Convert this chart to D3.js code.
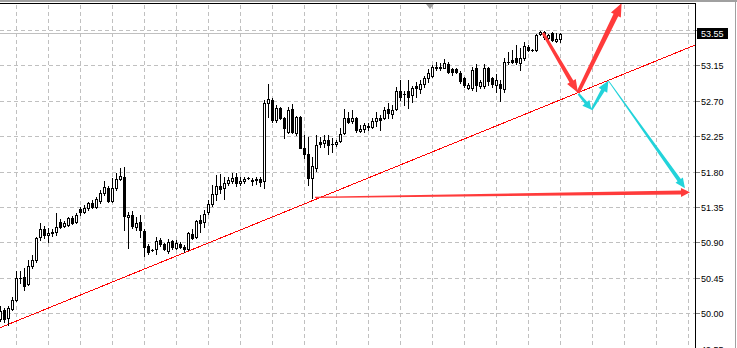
<!DOCTYPE html>
<html>
<head>
<meta charset="utf-8">
<script src="https://cdn.jsdelivr.net/npm/d3@7"></script>
<style>
  body { margin: 0; background: #fff; }
  svg { display: block; }
</style>
</head>
<body>
<svg id="chart" width="737" height="348"></svg>
<script>
const W = 737, H = 348, plotRight = 695;

// candles, one per bar (index 0 = leftmost)
const open = [
  49.928, 50.042, 49.940, 50.055, 50.169, 50.449, 50.461, 50.372, 50.601, 50.677,
  50.970, 51.071, 50.995, 51.020, 51.033, 51.160, 51.109, 51.122, 51.211, 51.160,
  51.325, 51.287, 51.338, 51.402, 51.351, 51.427, 51.529, 51.593, 51.427, 51.593,
  51.707, 51.732, 51.224, 51.249, 51.097, 51.160, 51.046, 50.855, 50.804, 50.817,
  50.932, 50.881, 50.792, 50.919, 50.830, 50.881, 50.843, 50.817, 51.008, 50.970,
  51.186, 51.160, 51.287, 51.389, 51.516, 51.618, 51.593, 51.656, 51.681, 51.732,
  51.656, 51.681, 51.720, 51.694, 51.694, 51.707, 51.681, 52.673, 52.711, 52.456,
  52.609, 52.482, 52.304, 52.596, 52.291, 52.494, 52.101, 52.025, 51.720, 51.847,
  52.177, 52.164, 52.202, 52.152, 52.152, 52.190, 52.291, 52.482, 52.443, 52.482,
  52.317, 52.342, 52.380, 52.368, 52.443, 52.482, 52.482, 52.596, 52.533, 52.596,
  52.825, 52.787, 52.825, 52.774, 52.889, 52.851, 52.914, 52.990, 53.016, 53.130,
  53.117, 53.117, 53.168, 53.105, 53.105, 53.054, 52.990, 52.863, 52.863, 53.117,
  52.889, 52.889, 53.117, 52.990, 52.901, 52.914, 52.851, 53.194, 53.219, 53.245,
  53.181, 53.245, 53.384, 53.346, 53.346, 53.550, 53.575, 53.499, 53.562, 53.461,
  53.486
];
const close = [
  50.029, 49.928, 50.067, 50.169, 50.449, 50.449, 50.347, 50.601, 50.677, 50.957,
  51.071, 50.995, 51.020, 51.033, 51.097, 51.097, 51.147, 51.211, 51.147, 51.249,
  51.287, 51.338, 51.402, 51.351, 51.453, 51.529, 51.605, 51.427, 51.593, 51.707,
  51.745, 51.237, 51.249, 51.109, 51.147, 51.058, 50.843, 50.779, 50.804, 50.919,
  50.881, 50.817, 50.906, 50.843, 50.894, 50.843, 50.817, 51.020, 50.957, 51.173,
  51.147, 51.262, 51.389, 51.516, 51.618, 51.580, 51.656, 51.694, 51.720, 51.656,
  51.681, 51.707, 51.720, 51.681, 51.707, 51.669, 52.673, 52.724, 52.456, 52.609,
  52.482, 52.355, 52.584, 52.304, 52.494, 52.101, 52.025, 51.720, 51.872, 52.139,
  52.152, 52.202, 52.139, 52.152, 52.177, 52.279, 52.482, 52.431, 52.482, 52.329,
  52.342, 52.393, 52.368, 52.443, 52.482, 52.456, 52.584, 52.545, 52.584, 52.825,
  52.749, 52.787, 52.749, 52.863, 52.863, 52.914, 52.990, 53.054, 53.130, 53.117,
  53.130, 53.181, 53.067, 53.067, 53.067, 52.952, 52.901, 52.901, 53.092, 52.901,
  52.940, 53.117, 52.952, 52.914, 52.965, 52.863, 53.194, 53.194, 53.194, 53.194,
  53.245, 53.397, 53.346, 53.346, 53.537, 53.575, 53.512, 53.537, 53.473, 53.486,
  53.550
];
const high = [
  50.093, 50.067, 50.093, 50.207, 50.538, 50.538, 50.576, 50.677, 50.741, 50.970,
  51.147, 51.109, 51.084, 51.071, 51.274, 51.198, 51.173, 51.224, 51.236, 51.274,
  51.351, 51.376, 51.415, 51.440, 51.478, 51.567, 51.681, 51.618, 51.720, 51.783,
  51.847, 51.859, 51.287, 51.300, 51.224, 51.249, 51.071, 50.881, 50.817, 50.970,
  50.957, 50.894, 50.944, 50.932, 50.932, 50.906, 50.868, 51.033, 51.071, 51.186,
  51.249, 51.313, 51.440, 51.631, 51.758, 51.770, 51.732, 51.732, 51.783, 51.783,
  51.732, 51.732, 51.732, 51.720, 51.732, 51.732, 52.711, 52.914, 52.737, 52.647,
  52.622, 52.495, 52.622, 52.660, 52.507, 52.507, 52.266, 52.241, 51.986, 52.266,
  52.240, 52.266, 52.266, 52.230, 52.202, 52.355, 52.596, 52.558, 52.584, 52.494,
  52.393, 52.418, 52.418, 52.482, 52.558, 52.520, 52.622, 52.673, 52.647, 52.876,
  52.965, 52.825, 52.965, 52.889, 52.940, 52.965, 53.016, 53.105, 53.156, 53.194,
  53.181, 53.232, 53.194, 53.117, 53.117, 53.079, 53.003, 52.927, 53.130, 53.168,
  52.965, 53.168, 53.130, 53.003, 53.041, 52.965, 53.245, 53.321, 53.346, 53.410,
  53.372, 53.448, 53.410, 53.359, 53.550, 53.588, 53.588, 53.550, 53.575, 53.562,
  53.562
];
const low = [
  49.902, 49.889, 49.851, 50.042, 50.156, 50.385, 50.296, 50.360, 50.580, 50.652,
  50.932, 50.957, 50.906, 50.982, 50.995, 51.084, 51.097, 51.109, 51.135, 51.147,
  51.249, 51.274, 51.313, 51.338, 51.338, 51.402, 51.504, 51.415, 51.415, 51.567,
  51.694, 51.058, 50.830, 51.084, 51.058, 50.970, 50.728, 50.754, 50.792, 50.754,
  50.855, 50.804, 50.766, 50.817, 50.817, 50.830, 50.779, 50.804, 50.944, 50.957,
  51.033, 51.097, 51.262, 51.364, 51.440, 51.529, 51.453, 51.631, 51.656, 51.618,
  51.631, 51.656, 51.707, 51.631, 51.643, 51.618, 51.593, 52.495, 52.431, 52.431,
  52.469, 52.228, 52.291, 52.291, 52.266, 52.101, 51.974, 51.631, 51.466, 51.809,
  52.114, 52.114, 52.025, 52.050, 52.126, 52.177, 52.279, 52.418, 52.418, 52.304,
  52.304, 52.304, 52.329, 52.355, 52.380, 52.329, 52.469, 52.482, 52.482, 52.584,
  52.711, 52.647, 52.609, 52.685, 52.749, 52.800, 52.876, 52.940, 53.003, 53.092,
  53.092, 53.117, 53.054, 53.029, 53.054, 52.927, 52.876, 52.851, 52.838, 52.825,
  52.863, 52.863, 52.901, 52.876, 52.813, 52.698, 52.813, 53.168, 53.181, 53.168,
  53.092, 53.219, 53.334, 53.334, 53.334, 53.537, 53.486, 53.486, 53.461, 53.448,
  53.448
];

const priceTicks = ["49.55", "50.00", "50.45", "50.90", "51.35", "51.80", "52.25", "52.70", "53.15", "53.60"];
const bid = 53.55;

// drawing objects, points as [bar, price]
const trendLine = [[0, 49.817], [173.75, 53.408]];
const redArrows = [
  [[135.75, 53.562], [144.5, 52.803]],
  [[144.5, 52.803], [155.4, 53.939]],
  [[78.75, 51.474], [172.5, 51.537]]
];
const cyanArrows = [
  [[144.6, 52.79], [147.9, 52.587]],
  [[147.9, 52.587], [152.1, 52.956]],
  [[152.1, 52.956], [171.25, 51.588]]
];

const svg = d3.select("#chart");
const x = d3.scaleLinear().domain([0, 173.75]).range([0, plotRight]);
const y = d3.scaleLinear().domain([50.00, 53.60]).range([313.3, 30.0]);
const px = v => Math.round(x(v)), py = v => Math.round(y(v));

svg.append("rect").attr("width", W).attr("height", H).attr("fill", "#fff");

// grid
const grid = svg.append("g").attr("stroke", "#c0c0c0").attr("stroke-dasharray", "4,3").attr("shape-rendering", "crispEdges");
grid.selectAll("line.h").data(priceTicks).join("line")
  .attr("x1", 0).attr("x2", plotRight)
  .attr("y1", d => py(+d) + 0.5).attr("y2", d => py(+d) + 0.5);
grid.selectAll("line.v").data(d3.range(4, 174, 8)).join("line")
  .attr("x1", d => px(d) + 0.5).attr("x2", d => px(d) + 0.5)
  .attr("y1", 5).attr("y2", H);

// bid line
svg.append("line").attr("x1", 0).attr("x2", plotRight)
  .attr("y1", py(bid) - 0.5).attr("y2", py(bid) - 0.5)
  .attr("stroke", "#c0c0c0").attr("shape-rendering", "crispEdges");

// trend line
svg.append("line")
  .attr("x1", x(trendLine[0][0])).attr("y1", y(trendLine[0][1]))
  .attr("x2", x(trendLine[1][0])).attr("y2", y(trendLine[1][1]))
  .attr("stroke", "#ff0000").attr("stroke-width", 1).attr("shape-rendering", "crispEdges");

// candles
const candles = svg.append("g").attr("shape-rendering", "crispEdges");
d3.range(open.length).forEach(i => {
  const cx = px(i);
  const top = py(Math.max(open[i], close[i])), bot = py(Math.min(open[i], close[i]));
  const g = candles.append("g");
  g.append("rect").attr("x", cx).attr("width", 1)
    .attr("y", py(high[i])).attr("height", py(low[i]) - py(high[i]) + 1).attr("fill", "#000");
  g.append("rect").attr("x", cx - 1).attr("width", 3)
    .attr("y", top).attr("height", bot - top + 1).attr("fill", "#000");
  if (close[i] > open[i] && bot - top > 1) {
    g.append("rect").attr("x", cx).attr("width", 1)
      .attr("y", top + 1).attr("height", bot - top - 1).attr("fill", "#fff");
  }
});

// tapered arrows
function arrowPath(p, w0, w1, L, Hh) {
  const x0 = x(p[0][0]), y0 = y(p[0][1]), x1 = x(p[1][0]), y1 = y(p[1][1]);
  const len = Math.hypot(x1 - x0, y1 - y0), ux = (x1 - x0) / len, uy = (y1 - y0) / len;
  const nx = -uy, ny = ux;
  const ex = x1 - ux * L, ey = y1 - uy * L;
  const pts = [
    [x0 + nx * w0, y0 + ny * w0], [ex + nx * w1, ey + ny * w1], [ex + nx * Hh, ey + ny * Hh],
    [x1, y1],
    [ex - nx * Hh, ey - ny * Hh], [ex - nx * w1, ey - ny * w1], [x0 - nx * w0, y0 - ny * w0]
  ];
  return "M" + pts.map(d => d.join(",")).join("L") + "Z";
}
const redStyle = [[1.4, 2.2, 13, 5], [1.8, 2.6, 13, 5.5], [0.6, 2, 9, 4.5]];
const cyanStyle = [[1, 1.6, 9, 4.5], [1, 2, 11, 5], [0.4, 2, 10, 4.5]];
svg.selectAll("path.red").data(redArrows).join("path")
  .attr("d", (d, i) => arrowPath(d, ...redStyle[i])).attr("fill", "#ff3b3b");
svg.selectAll("path.cyan").data(cyanArrows).join("path")
  .attr("d", (d, i) => arrowPath(d, ...cyanStyle[i])).attr("fill", "#22d3da");

// frame
svg.append("rect").attr("x", 0).attr("y", 0).attr("width", W).attr("height", 2).attr("fill", "#a0a0a0");
svg.append("rect").attr("x", 0).attr("y", 3).attr("width", plotRight + 1).attr("height", 1).attr("fill", "#000");
svg.append("rect").attr("x", plotRight).attr("y", 3).attr("width", 1).attr("height", H).attr("fill", "#000");
svg.append("rect").attr("x", 735).attr("y", 0).attr("width", 1).attr("height", H).attr("fill", "#a0a0a0");
svg.append("path").attr("d", "M426,4L434,4L430,9Z").attr("fill", "#a0a0a0");

// price axis
const axis = svg.append("g").attr("font-family", "Liberation Sans, Arial, sans-serif").attr("font-size", 9);
priceTicks.forEach(t => {
  const ty = py(+t);
  axis.append("rect").attr("x", 696).attr("y", ty).attr("width", 4).attr("height", 1)
    .attr("fill", "#808080").attr("shape-rendering", "crispEdges");
  axis.append("text").attr("x", 701).attr("y", ty + 3.5).attr("fill", "#000").text(t);
});
axis.append("rect").attr("x", 697).attr("y", py(bid) - 6).attr("width", 31).attr("height", 11).attr("fill", "#000");
axis.append("text").attr("x", 701).attr("y", py(bid) + 3).attr("fill", "#fff").text(bid.toFixed(2));
</script>
</body>
</html>
